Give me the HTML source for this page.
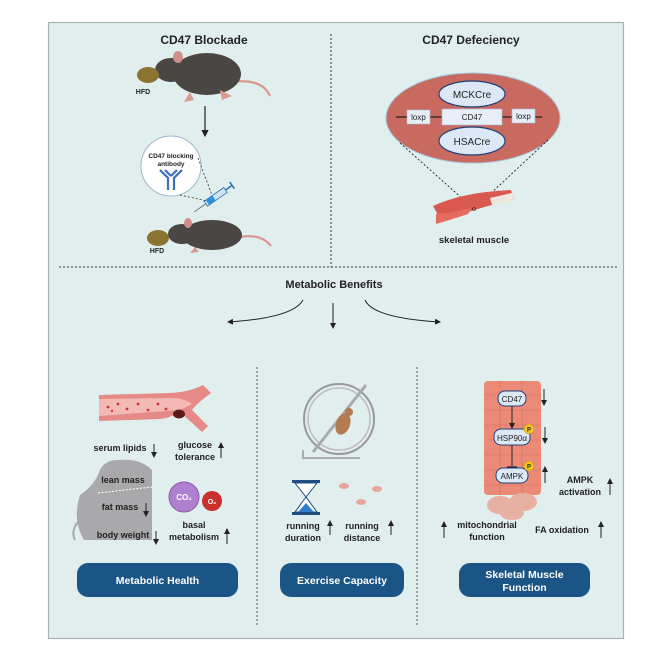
<!DOCTYPE html>
<html><head><meta charset="utf-8"><style>
html,body{margin:0;padding:0;background:#fff;}
svg{display:block;}
text{font-family:"Liberation Sans",sans-serif;font-weight:bold;fill:#222;}
</style></head><body>
<svg width="664" height="664" viewBox="0 0 664 664" xmlns="http://www.w3.org/2000/svg">
<defs>
<marker id="ah" markerWidth="6" markerHeight="6" refX="5" refY="3" orient="auto"><path d="M0,0 L6,3 L0,6 z" fill="#222"/></marker>
</defs>
<rect x="48.5" y="22.5" width="575" height="616" fill="#e0eeed" stroke="#a9b3b3" stroke-width="1.2"/>
<!-- dividers -->
<line x1="331" y1="34" x2="331" y2="267" stroke="#333" stroke-width="1" stroke-dasharray="2,2"/>
<line x1="59" y1="267" x2="617" y2="267" stroke="#333" stroke-width="1" stroke-dasharray="2,2"/>
<line x1="257" y1="367" x2="257" y2="625" stroke="#333" stroke-width="0.8" stroke-dasharray="2,2"/>
<line x1="417" y1="367" x2="417" y2="625" stroke="#333" stroke-width="0.8" stroke-dasharray="2,2"/>

<text x="204" y="44" font-size="12" text-anchor="middle">CD47 Blockade</text>
<text x="471" y="44" font-size="12" text-anchor="middle">CD47 Defeciency</text>

<!-- mouse 1 -->
<g>
<path d="M232,82 q30,-4 38,14" stroke="#d99a90" stroke-width="2.2" fill="none"/>
<ellipse cx="207" cy="74" rx="34" ry="21" fill="#4a4644"/>
<ellipse cx="171" cy="70" rx="16" ry="12" fill="#4a4644"/>
<ellipse cx="178" cy="57" rx="5" ry="6" fill="#cf8f88"/>
<path d="M190,92 l-6,10 l10,-2z M220,90 l2,10 l10,-4z" fill="#d99a90"/>
<ellipse cx="148" cy="75" rx="11" ry="8" fill="#8b7430"/>
<text x="143" y="94" font-size="7" text-anchor="middle">HFD</text>
</g>
<line x1="205" y1="106" x2="205" y2="136" stroke="#222" stroke-width="1.2" marker-end="url(#ah)"/>
<!-- antibody circle -->
<circle cx="171" cy="166" r="30" fill="#fff" stroke="#9fb8cc" stroke-width="1"/>
<text x="171" y="158" font-size="6.5" text-anchor="middle">CD47 blocking</text>
<text x="171" y="166" font-size="6.5" text-anchor="middle">antibody</text>
<path d="M160,170 l8,8 v12 M182,170 l-8,8 v12 M165,170 l6,6 M177,170 l-6,6" stroke="#3c6fc0" stroke-width="2.2" fill="none"/>
<line x1="198" y1="158" x2="212" y2="195" stroke="#333" stroke-width="0.8" stroke-dasharray="2,2"/>
<line x1="180" y1="195" x2="207" y2="201" stroke="#333" stroke-width="0.8" stroke-dasharray="2,2"/>
<!-- syringe -->
<g transform="translate(214,198) rotate(-35)">
<rect x="-10" y="-3" width="24" height="6" fill="#cfe4f0" stroke="#2a6fb0" stroke-width="0.8"/>
<rect x="-8" y="-3" width="8" height="6" fill="#2f8fd8"/>
<line x1="-10" y1="0" x2="-24" y2="0" stroke="#666" stroke-width="0.8"/>
<line x1="14" y1="0" x2="22" y2="0" stroke="#2a6fb0" stroke-width="1.5"/>
<line x1="22" y1="-4" x2="22" y2="4" stroke="#2a6fb0" stroke-width="1.5"/>
</g>
<!-- mouse 2 -->
<g>
<path d="M235,238 q25,-6 36,8" stroke="#d99a90" stroke-width="2.2" fill="none"/>
<ellipse cx="212" cy="235" rx="30" ry="15" fill="#4a4644"/>
<ellipse cx="182" cy="234" rx="14" ry="10" fill="#4a4644"/>
<ellipse cx="188" cy="223" rx="4" ry="5" fill="#cf8f88"/>
<path d="M195,247 l-5,6 l9,-1z" fill="#d99a90"/>
<ellipse cx="158" cy="238" rx="11" ry="8" fill="#8b7430"/>
<text x="157" y="253" font-size="7" text-anchor="middle">HFD</text>
</g>

<!-- deficiency ellipse -->
<ellipse cx="473" cy="118" rx="87" ry="45" fill="#c86a60" stroke="#a8c4e0" stroke-width="1"/>
<line x1="396" y1="117" x2="542" y2="117" stroke="#222" stroke-width="1.2"/>
<ellipse cx="472" cy="94" rx="33" ry="13" fill="#dde8f7" stroke="#1f3f7a" stroke-width="1.2"/>
<text x="472" y="98" font-size="10" font-weight="normal" text-anchor="middle" style="font-weight:normal">MCKCre</text>
<ellipse cx="472" cy="141" rx="33" ry="14" fill="#dde8f7" stroke="#1f3f7a" stroke-width="1.2"/>
<text x="472" y="145" font-size="10" text-anchor="middle" style="font-weight:normal">HSACre</text>
<rect x="442" y="109" width="60" height="16" fill="#e8eef8" stroke="#a9b8d0" stroke-width="0.6"/>
<text x="472" y="120" font-size="8" text-anchor="middle" style="font-weight:normal">CD47</text>
<rect x="407" y="110" width="23" height="14" fill="#e8eef8" stroke="#a9b8d0" stroke-width="0.6"/>
<text x="418.5" y="120" font-size="8" text-anchor="middle" style="font-weight:normal">loxp</text>
<rect x="512" y="109" width="23" height="14" fill="#e8eef8" stroke="#a9b8d0" stroke-width="0.6"/>
<text x="523.5" y="119" font-size="8" text-anchor="middle" style="font-weight:normal">loxp</text>
<line x1="400" y1="143" x2="474" y2="209" stroke="#222" stroke-width="0.9" stroke-dasharray="2,2"/>
<line x1="548" y1="140" x2="474" y2="209" stroke="#222" stroke-width="0.9" stroke-dasharray="2,2"/>
<path d="M433,206 q30,-14 78,-16 l3,10 q-40,8 -72,22 z" fill="#d9584f"/>
<path d="M490,198 l22,-5 l2,8 l-22,4z" fill="#eee8dc"/>
<path d="M436,214 q20,-2 36,-6 l-4,6 q-18,6 -32,10z" fill="#e56a60"/>
<circle cx="474" cy="209" r="1.5" fill="none" stroke="#222" stroke-width="0.6"/>
<text x="474" y="243" font-size="9.5" text-anchor="middle">skeletal muscle</text>

<text x="334" y="288" font-size="11" text-anchor="middle">Metabolic Benefits</text>
<path d="M303,300 q-10,18 -75,22" stroke="#222" stroke-width="1" fill="none" marker-end="url(#ah)"/>
<line x1="333" y1="303" x2="333" y2="328" stroke="#222" stroke-width="1" marker-end="url(#ah)"/>
<path d="M365,300 q8,18 75,22" stroke="#222" stroke-width="1" fill="none" marker-end="url(#ah)"/>

<!-- blood vessel -->
<path d="M99,395 L170,393 Q190,392 203,385 L211,393 Q196,404 192,410 L208,426 L202,432 L180,412 Q170,418 160,419 L99,421 z" fill="#e58a86"/>
<path d="M99,399 L170,398 Q185,398 192,404 L180,410 L99,416z" fill="#f4b9b4"/>
<g fill="#d0323a"><circle cx="108" cy="407" r="1.4"/><circle cx="118" cy="404" r="1.4"/><circle cx="127" cy="409" r="1.4"/><circle cx="138" cy="404" r="1.4"/><circle cx="148" cy="410" r="1.4"/><circle cx="158" cy="404" r="1.4"/><circle cx="166" cy="409" r="1.4"/><circle cx="112" cy="411" r="1.2"/></g>
<ellipse cx="179" cy="414" rx="6" ry="4.5" fill="#5a1a1a"/>

<text x="120" y="451" font-size="9" text-anchor="middle">serum lipids</text>
<text x="195" y="448" font-size="9" text-anchor="middle">glucose</text>
<text x="195" y="460" font-size="9" text-anchor="middle">tolerance</text>
<!-- grey mouse -->
<path d="M118,460 Q140,458 152,470 L152,540 L84,540 Q72,520 80,495 Q95,485 100,470 Q105,460 118,460z" fill="#a9a9ab"/>
<path d="M80,520 q-10,10 -5,20" stroke="#a9a9ab" stroke-width="2" fill="none"/>
<line x1="98" y1="493" x2="152" y2="487" stroke="#fff" stroke-width="1" stroke-dasharray="2,1.5"/>
<text x="123" y="483" font-size="9" text-anchor="middle">lean mass</text>
<text x="120" y="510" font-size="9" text-anchor="middle">fat mass</text>
<text x="123" y="538" font-size="9" text-anchor="middle">body weight</text>
<circle cx="184" cy="497" r="15" fill="#b080d0" stroke="#8a5aa8" stroke-width="1"/>
<text x="184" y="500" font-size="8" text-anchor="middle" style="fill:#fff">CO₂</text>
<circle cx="212" cy="501" r="10" fill="#c9312e"/>
<text x="212" y="504" font-size="7" text-anchor="middle" style="fill:#fff">O₂</text>
<text x="194" y="528" font-size="9" text-anchor="middle">basal</text>
<text x="194" y="540" font-size="9" text-anchor="middle">metabolism</text>
<g stroke="#222" stroke-width="1" marker-end="url(#ah)">
<line x1="154" y1="444" x2="154" y2="457"/>
<line x1="221" y1="458" x2="221" y2="443"/>
<line x1="146" y1="503" x2="146" y2="516"/>
<line x1="156" y1="531" x2="156" y2="544"/>
<line x1="227" y1="544" x2="227" y2="529"/>
</g>

<!-- wheel -->
<circle cx="339" cy="419" r="35" fill="none" stroke="#9a9a9a" stroke-width="2"/>
<circle cx="339" cy="419" r="31" fill="none" stroke="#bdbdbd" stroke-width="1.5"/>
<line x1="313" y1="452" x2="366" y2="385" stroke="#aaa" stroke-width="3"/>
<path d="M303,450 L303,458 L360,458" stroke="#aaa" stroke-width="2" fill="none"/>
<ellipse cx="343" cy="424" rx="7" ry="11" fill="#b47a50" transform="rotate(20 343 424)"/>
<ellipse cx="349" cy="412" rx="4" ry="4" fill="#b47a50"/>
<!-- hourglass -->
<rect x="292" y="480" width="28" height="3" fill="#1f4f80"/>
<rect x="292" y="512" width="28" height="3" fill="#1f4f80"/>
<path d="M295,483 L317,483 L306,497 L317,512 L295,512 L306,497z" fill="#fff" stroke="#1f4f80" stroke-width="1"/>
<path d="M298,512 L314,512 L306,503z" fill="#2f7fd0"/>
<g fill="#e9a597"><ellipse cx="344" cy="486" rx="5" ry="3"/><ellipse cx="377" cy="489" rx="5" ry="3"/><ellipse cx="361" cy="502" rx="5" ry="3"/></g>
<text x="303" y="529" font-size="9" text-anchor="middle">running</text>
<text x="303" y="541" font-size="9" text-anchor="middle">duration</text>
<text x="362" y="529" font-size="9" text-anchor="middle">running</text>
<text x="362" y="541" font-size="9" text-anchor="middle">distance</text>
<g stroke="#222" stroke-width="1" marker-end="url(#ah)">
<line x1="330" y1="535" x2="330" y2="521"/>
<line x1="391" y1="535" x2="391" y2="521"/>
</g>

<!-- muscle block -->
<rect x="484" y="381" width="57" height="114" rx="4" fill="#ec8a78"/>
<g stroke="#d76e5e" stroke-width="0.6">
<line x1="484" y1="395" x2="541" y2="395"/><line x1="484" y1="410" x2="541" y2="410"/><line x1="484" y1="425" x2="541" y2="425"/><line x1="484" y1="440" x2="541" y2="440"/><line x1="484" y1="455" x2="541" y2="455"/><line x1="484" y1="470" x2="541" y2="470"/><line x1="484" y1="485" x2="541" y2="485"/>
<line x1="500" y1="381" x2="500" y2="495"/><line x1="522" y1="381" x2="522" y2="495"/>
</g>
<g fill="#e8b0a0"><ellipse cx="500" cy="505" rx="13" ry="9"/><ellipse cx="523" cy="502" rx="14" ry="9"/><ellipse cx="512" cy="513" rx="12" ry="7"/></g>
<rect x="498" y="391" width="28" height="15" rx="7" fill="#dde8f7" stroke="#1f3f7a" stroke-width="1"/>
<text x="512" y="402" font-size="8" text-anchor="middle" style="font-weight:normal">CD47</text>
<rect x="494" y="429" width="36" height="16" rx="7" fill="#dde8f7" stroke="#1f3f7a" stroke-width="1"/>
<text x="512" y="441" font-size="8" text-anchor="middle" style="font-weight:normal">HSP90α</text>
<rect x="496" y="468" width="32" height="15" rx="7" fill="#dde8f7" stroke="#1f3f7a" stroke-width="1"/>
<text x="512" y="479" font-size="8" text-anchor="middle" style="font-weight:normal">AMPK</text>
<line x1="512" y1="406" x2="512" y2="428" stroke="#222" stroke-width="1" marker-end="url(#ah)"/>
<line x1="512" y1="445" x2="512" y2="467" stroke="#222" stroke-width="1"/>
<line x1="507" y1="467" x2="517" y2="467" stroke="#222" stroke-width="1.2"/>
<circle cx="529" cy="429" r="5" fill="#f3c623" stroke="#b08a00" stroke-width="0.5"/>
<text x="529" y="431.5" font-size="6" text-anchor="middle">P</text>
<circle cx="529" cy="466" r="5" fill="#f3c623" stroke="#b08a00" stroke-width="0.5"/>
<text x="529" y="468.5" font-size="6" text-anchor="middle">P</text>
<text x="580" y="483" font-size="9" text-anchor="middle">AMPK</text>
<text x="580" y="495" font-size="9" text-anchor="middle">activation</text>
<text x="487" y="528" font-size="9" text-anchor="middle">mitochondrial</text>
<text x="487" y="540" font-size="9" text-anchor="middle">function</text>
<text x="562" y="533" font-size="9" text-anchor="middle">FA oxidation</text>
<g stroke="#222" stroke-width="1" marker-end="url(#ah)">
<line x1="544" y1="389" x2="544" y2="405"/>
<line x1="545" y1="427" x2="545" y2="443"/>
<line x1="545" y1="483" x2="545" y2="467"/>
<line x1="610" y1="495" x2="610" y2="479"/>
<line x1="444" y1="538" x2="444" y2="522"/>
<line x1="601" y1="538" x2="601" y2="522"/>
</g>

<!-- boxes -->
<rect x="77" y="563" width="161" height="34" rx="11" fill="#1b5585"/>
<text x="157.5" y="584" font-size="10.5" text-anchor="middle" style="fill:#fff">Metabolic Health</text>
<rect x="280" y="563" width="124" height="34" rx="11" fill="#1b5585"/>
<text x="342" y="584" font-size="10.5" text-anchor="middle" style="fill:#fff">Exercise Capacity</text>
<rect x="459" y="563" width="131" height="34" rx="11" fill="#1b5585"/>
<text x="524.5" y="578" font-size="10.5" text-anchor="middle" style="fill:#fff">Skeletal Muscle</text>
<text x="524.5" y="591" font-size="10.5" text-anchor="middle" style="fill:#fff">Function</text>
</svg>
</body></html>
